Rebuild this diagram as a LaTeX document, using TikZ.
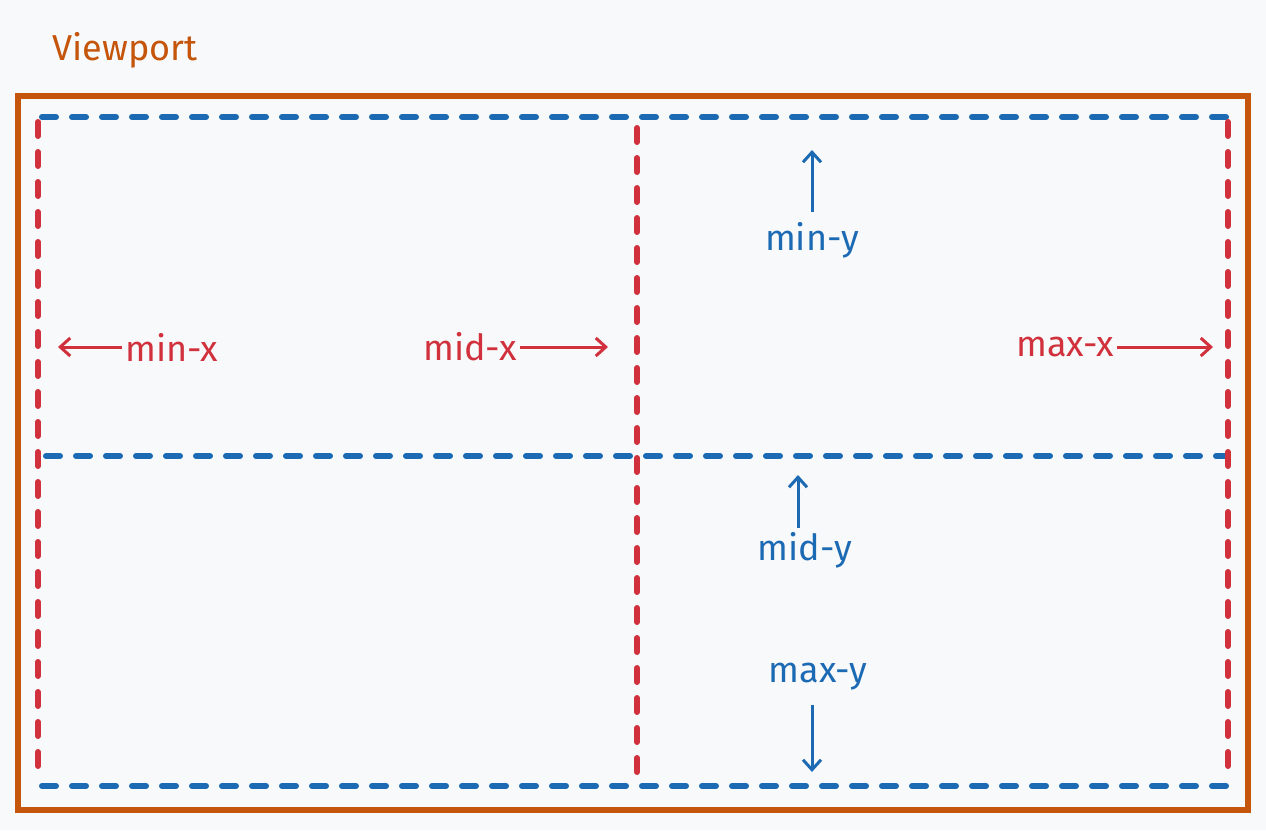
\documentclass[tikz,border=0pt]{standalone}
\usepackage{fontspec}
\setmainfont{Fira Sans}
\usetikzlibrary{arrows.meta}
\definecolor{bg}{HTML}{F8F9FA}
\definecolor{vorange}{HTML}{C4550B}
\definecolor{vblue}{HTML}{1C6AB4}
\definecolor{vred}{HTML}{D1313C}
\begin{document}
\begin{tikzpicture}[x=1pt,y=-1pt,
  bline/.style={vblue,line width=6pt,line cap=round,dash pattern=on 14pt off 16pt},
  rline/.style={vred,line width=6pt,line cap=round,dash pattern=on 14pt off 16pt},
  lab/.style={font=\fontsize{36}{36}\selectfont},
  arr/.style={line width=3pt,-{Straight Barb[length=10pt,width=18pt]}}]
\fill[bg] (0,0) rectangle (1266,830);
\useasboundingbox (0,0) rectangle (1266,830);
\draw[vorange,line width=6pt] (18,96) rectangle (1248,810);
\node[lab,text=vorange] (vp) at (125,50) {Viewport};
\draw[bline] (42,117) -- (1228,117);
\draw[bline] (46,456) -- (1228,456);
\draw[bline] (42,786) -- (1228,786);
\draw[rline] (38,122) -- (38,780);
\draw[rline] (637,128) -- (637,780);
\draw[rline] (1228,122) -- (1228,780);
\node[lab,text=vred] (minx) at (172,347) {min-x};
\coordinate (minxe) at (58,347);
\draw[arr,vred] (minx.west) -- (minxe);
\node[lab,text=vred] (midx) at (470,347) {mid-x};
\coordinate (midxe) at (608,347);
\draw[arr,vred] (midx.east) -- (midxe);
\node[lab,text=vred] (maxx) at (1065,347) {max-x};
\coordinate (maxxe) at (1213,347);
\draw[arr,vred] (maxx.east) -- (maxxe);
\node[lab,text=vblue] (miny) at (812,240) {min-y};
\coordinate (minye) at (812,150);
\draw[arr,vblue] (812,212) -- (minye);
\node[lab,text=vblue] (midy) at (805,550) {mid-y};
\coordinate (midye) at (798,475);
\draw[arr,vblue] (798,528) -- (midye);
\node[lab,text=vblue] (maxy) at (818,677) {max-y};
\coordinate (maxye) at (812,772);
\draw[arr,vblue] (812,705) -- (maxye);
\end{tikzpicture}
\end{document}
